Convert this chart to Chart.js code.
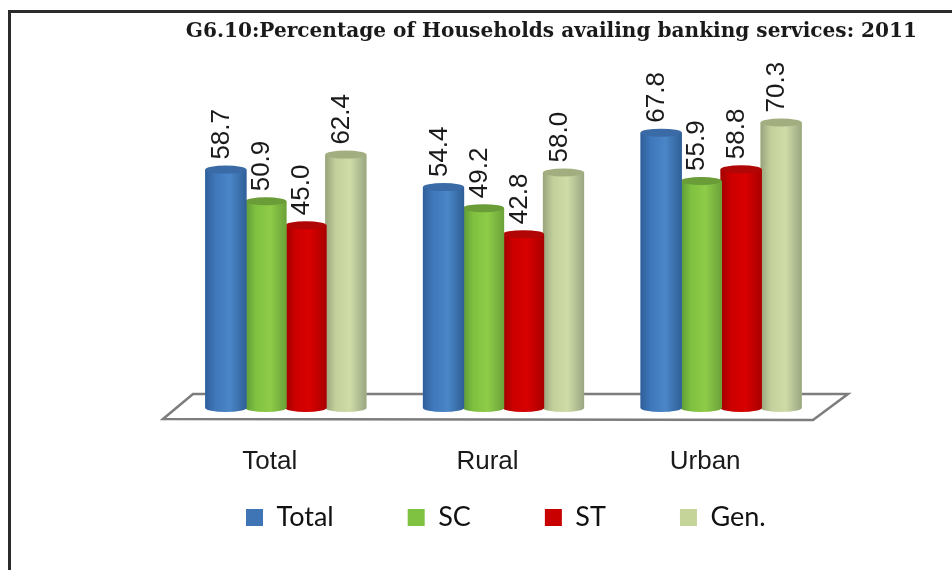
<!DOCTYPE html>
<html>
<head>
<meta charset="utf-8">
<title>G6.10</title>
<script src="https://cdn.jsdelivr.net/npm/chart.js@4/dist/chart.umd.js"></script>
<style>
	html, body { margin: 0; padding: 0; background: #fff; }
	#wrap { position: relative; width: 952px; height: 570px; overflow: hidden; }
	#frame { position: absolute; left: 8px; top: 10px; right: -5px; bottom: -5px; border-left: 3px solid #2b2b2b; border-top: 3px solid #2b2b2b; }
	#mycanvas { position: absolute; left: 0; top: 0; }
</style>
</head>
<body>
<div id="wrap">
	<div id="frame"></div>
	<canvas id="mycanvas" width="952" height="570"></canvas>
</div>
<script>
var titleText = 'G6.10:Percentage of Households availing banking services: 2011';
var categories = ['Total', 'Rural', 'Urban'];
var seriesNames = ['Total', 'SC', 'ST', 'Gen.'];
var totalValues = [58.7, 54.4, 67.8];
var scValues = [50.9, 49.2, 55.9];
var stValues = [45.0, 42.8, 58.8];
var genValues = [62.4, 58.0, 70.3];

var legendColors = ['#3f75b5', '#7fc241', '#c80000', '#c5d59a'];
var capColors = ['#3a6ba6', '#6a9c38', '#b00606', '#a3ae80'];
// edge, body, highlight, edge
var bodyColors = [
	['#2f5f9a', '#3f78bb', '#4a86c8', '#2f5f96'],
	['#5f9a38', '#7fc040', '#8ecc48', '#6ba23a'],
	['#a00000', '#cc0000', '#d80000', '#a80000'],
	['#98a37c', '#c3d09c', '#cfdca8', '#9aa680']
];

var allValues = [totalValues, scValues, stValues, genValues];
var datasets = [];
for (var i in seriesNames) {
	datasets.push({
		label: seriesNames[i],
		data: allValues[i],
		backgroundColor: legendColors[i],
		barPercentage: 1.03,
		categoryPercentage: 0.735
	});
}

// cylinders: paint over each library bar, using the bar's own x / y / base / width
var cylinderPlugin = {
	id: 'cylinder',
	afterDatasetDraw: function(chart, args) {
		var ctx = chart.ctx;
		var colors = bodyColors[args.index];
		var ry = 4;
		chart.getDatasetMeta(args.index).data.forEach(function(bar) {
			var left = bar.x - bar.width / 2;
			var right = bar.x + bar.width / 2;
			var grad = ctx.createLinearGradient(left, 0, right, 0);
			grad.addColorStop(0, colors[0]);
			grad.addColorStop(0.25, colors[1]);
			grad.addColorStop(0.6, colors[2]);
			grad.addColorStop(1, colors[3]);

			ctx.save();
			ctx.fillStyle = grad;
			ctx.fillRect(left, bar.y, bar.width, bar.base - bar.y);
			ctx.beginPath();
			ctx.ellipse(bar.x, bar.base, bar.width / 2, ry, 0, 0, Math.PI);
			ctx.fill();
			ctx.fillStyle = capColors[args.index];
			ctx.beginPath();
			ctx.ellipse(bar.x, bar.y, bar.width / 2, ry, 0, 0, Math.PI * 2);
			ctx.fill();
			ctx.restore();
		});
	}
};

// the floor under the bars, hung off the chart area
var floorPlugin = {
	id: 'floor',
	beforeDatasetsDraw: function(chart) {
		var ctx = chart.ctx;
		var area = chart.chartArea;
		ctx.save();
		ctx.beginPath();
		ctx.moveTo(area.left - 14, area.bottom + 11);
		ctx.lineTo(area.left + 16, area.bottom - 14);
		ctx.lineTo(area.right + 18, area.bottom - 14);
		ctx.lineTo(area.right - 17, area.bottom + 12);
		ctx.closePath();
		ctx.fillStyle = '#ffffff';
		ctx.fill();
		ctx.lineWidth = 2.5;
		ctx.strokeStyle = '#7d7d7d';
		ctx.stroke();
		ctx.restore();
	}
};

var valueLabelPlugin = {
	id: 'valueLabels',
	afterDatasetsDraw: function(chart) {
		var ctx = chart.ctx;
		ctx.save();
		ctx.font = '26px "Liberation Sans"';
		ctx.fillStyle = '#1a1a1a';
		ctx.textAlign = 'left';
		ctx.textBaseline = 'middle';
		chart.data.datasets.forEach(function(ds, d) {
			chart.getDatasetMeta(d).data.forEach(function(bar, n) {
				ctx.save();
				ctx.translate(bar.x - 4, bar.y - 10);
				ctx.rotate(-Math.PI / 2);
				ctx.fillText(ds.data[n].toFixed(1), 0, 0);
				ctx.restore();
			});
		});
		ctx.restore();
	}
};

// legend reserves almost no height (maxHeight) since its label padding is also used vertically;
// move it where it belongs once the layout is done
var legendPlacePlugin = {
	id: 'legendPlace',
	afterLayout: function(chart) {
		var lg = chart.legend;
		lg.left = 172;
		lg.right = 952;
		lg.width = 780;
		lg.top = 430;
		lg.bottom = 570;
		lg.height = 140;
	}
};

function hiddenAxis(position, width) {
	return {
		position: position,
		min: 0,
		max: 80,
		ticks: { display: false },
		grid: { display: false },
		border: { display: false },
		afterFit: function(scale) { scale.width = width; }
	};
}

var barGraph = new Chart(document.getElementById('mycanvas'), {
	type: 'bar',
	data: { labels: categories, datasets: datasets },
	plugins: [floorPlugin, cylinderPlugin, valueLabelPlugin, legendPlacePlugin],
	options: {
		responsive: false,
		animation: false,
		layout: { padding: { right: 35 } },
		scales: {
			x: {
				grid: { display: false },
				border: { display: false },
				ticks: {
					color: '#1a1a1a',
					padding: 30,
					labelOffset: -16,
					maxRotation: 0,
					font: { family: '"Liberation Sans"', size: 26 }
				},
				afterFit: function(scale) { scale.height = 161; }
			},
			y: hiddenAxis('left', 177),
			y2: hiddenAxis('right', 87)
		},
		plugins: {
			title: {
				display: true,
				text: titleText,
				align: 'end',
				color: '#1a1a1a',
				padding: { top: 20, bottom: 39 },
				font: { family: '"DejaVu Serif"', size: 20.1, weight: 'bold' }
			},
			legend: {
				position: 'bottom',
				align: 'start',
				maxHeight: 1,
				labels: {
					boxWidth: 17,
					boxHeight: 17,
					padding: 74,
					color: '#111111',
					font: { family: 'Lato', size: 27 }
				}
			},
			tooltip: { enabled: false }
		}
	}
});
</script>
</body>
</html>
